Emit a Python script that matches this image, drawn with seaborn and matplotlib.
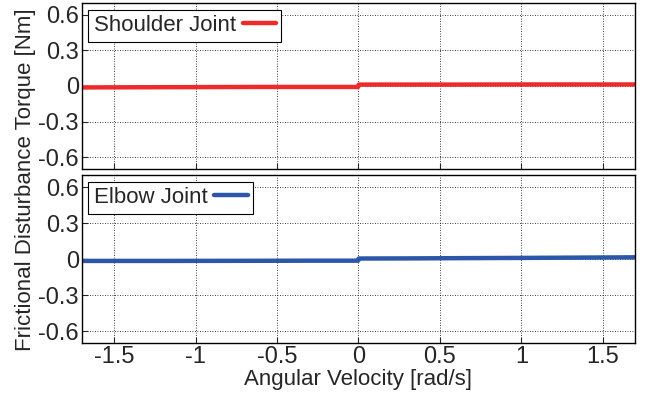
import numpy as np
import pandas as pd
import seaborn as sns
import matplotlib.pyplot as plt

# friction torque vs angular velocity
velocity = [-1.7, -1.2, -0.6, -0.3, -0.002, 0.002, 0.3, 0.6, 1.0, 1.4, 1.7]
shoulder_torque = [-0.012, -0.010, -0.008, -0.008, -0.008, 0.012, 0.012, 0.012, 0.013, 0.013, 0.013]
elbow_torque = [-0.016, -0.016, -0.015, -0.014, -0.014, 0.004, 0.005, 0.007, 0.009, 0.012, 0.014]

joint_names = ['Shoulder Joint', 'Elbow Joint']
joint_colors = ['#ee2a2a', '#2c57a8']
y_ticks = [-0.6, -0.3, 0, 0.3, 0.6]
y_ticklabels = ['-0.6', '-0.3', '0', '0.3', '0.6']
x_ticks = [-1.5, -1, -0.5, 0, 0.5, 1, 1.5]
x_ticklabels = ['-1.5', '-1', '-0.5', '0', '0.5', '1', '1.5']

sns.set_style('ticks')
plt.rcParams['font.family'] = ['Liberation Sans', 'DejaVu Sans']
fs = 16

fig = plt.figure(figsize=(6.5, 4), dpi=100)
ax_top = fig.add_axes([0.1255, 0.5775, 0.852, 0.415])
ax_bot = fig.add_axes([0.1255, 0.1425, 0.852, 0.42])

torques = [shoulder_torque, elbow_torque]
for ax, name, col, tq in zip([ax_top, ax_bot], joint_names, joint_colors, torques):
    df = pd.DataFrame({'v': velocity, 't': tq})
    sns.lineplot(data=df, x='v', y='t', ax=ax, color=col, lw=3.2, label=name)
    ax.set_xlim(-1.7, 1.7)
    ax.set_ylim(-0.7, 0.7)
    ax.set_yticks(y_ticks)
    ax.set_yticklabels(y_ticklabels)
    ax.set_xticks(x_ticks)
    ax.grid(True, color='black', ls=(0, (1, 2)), lw=0.6)
    ax.tick_params(direction='in', length=4, labelsize=17, pad=2)
    for s in ax.spines.values():
        s.set_color('black')
        s.set_linewidth(1.0)
    ax.set_xlabel('')
    ax.set_ylabel('')
    leg = ax.legend(loc='upper left', markerfirst=False, fontsize=fs, handlelength=1.5,
                    handletextpad=0.3, borderpad=0.25, borderaxespad=0.3, fancybox=False,
                    framealpha=1)
    leg.get_frame().set_edgecolor('black')
    leg.get_frame().set_linewidth(0.8)

ax_top.set_xticklabels([])
ax_bot.set_xticklabels(x_ticklabels)
ax_bot.set_xlabel('Angular Velocity [rad/s]', fontsize=fs, labelpad=1)
fig.text(0.04, 0.55, 'Frictional Disturbance Torque [Nm]', rotation=90,
         ha='center', va='center', fontsize=fs)

plt.savefig('out.png', dpi=100)
